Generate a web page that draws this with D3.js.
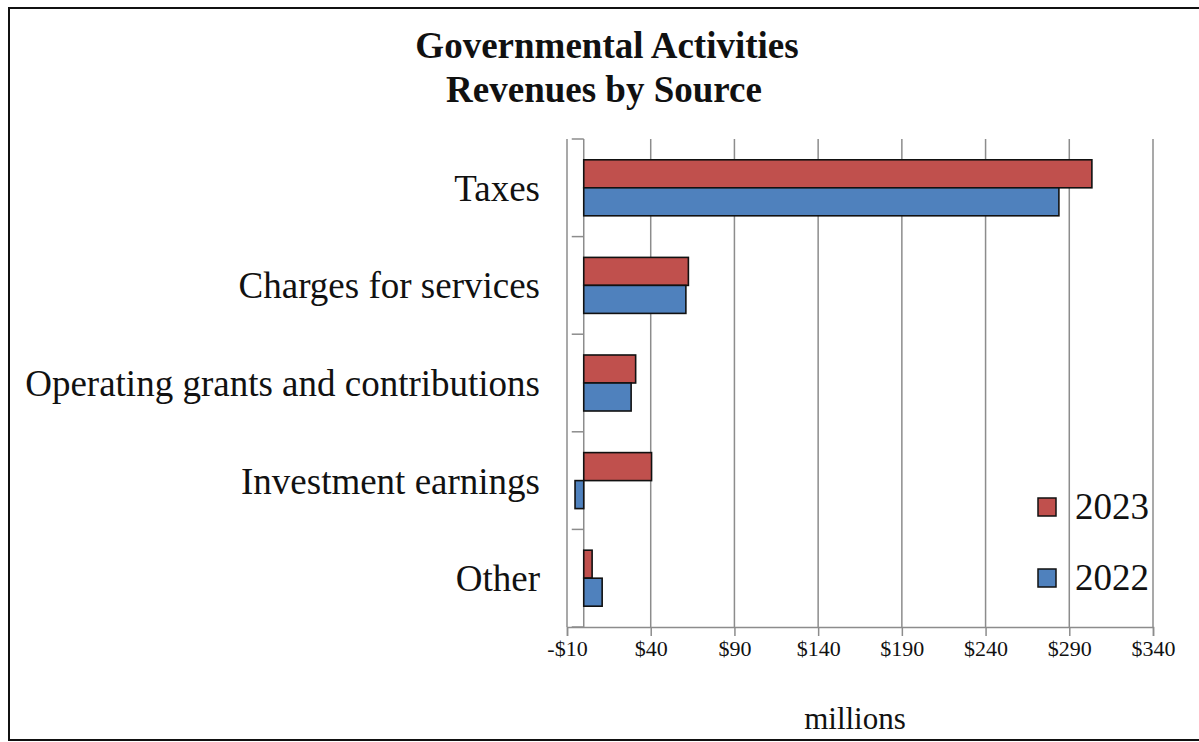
<!DOCTYPE html>
<html><head><meta charset="utf-8">
<script src="https://cdn.jsdelivr.net/npm/d3@7"></script>
<style>body{margin:0;background:#fff}svg{display:block}text{font-family:"Liberation Serif","Times New Roman",serif}</style>
</head><body>
<svg id="c" width="1199" height="742"></svg>
<script>
const categories = ["Taxes","Charges for services","Operating grants and contributions","Investment earnings","Other"];
const series = ["2023","2022"];
const values2023 = [303.5, 62.5, 31, 40.5, 5];
const values2022 = [283.8, 61, 28.3, -5.2, 11];
const tickValues = [-10,40,90,140,190,240,290,340];
const colors = ["#C0504D","#4F81BD"];

const svg = d3.select("#c");
svg.append("rect").attr("x",9).attr("y",8).attr("width",1200).attr("height",732)
  .attr("fill","none").attr("stroke","#111").attr("stroke-width",2);

const x = d3.scaleLinear().domain([-10,340]).range([567,1153]);
const y = d3.scaleBand().domain(categories).range([139,627]).padding(0);
const barH = 28;

// gridlines
svg.append("g").selectAll("line").data(tickValues).join("line")
  .attr("x1",d=>x(d)).attr("x2",d=>x(d)).attr("y1",139).attr("y2",627)
  .attr("stroke","#8c8c8c").attr("stroke-width",1.5);

// bottom axis
const xAxis = d3.axisBottom(x).tickValues(tickValues).tickSize(9).tickPadding(4)
  .tickFormat(d=> d<0 ? "-$"+Math.abs(d) : "$"+d);
const gx = svg.append("g").attr("transform","translate(0,627)").call(xAxis);
gx.select(".domain").attr("stroke","#8c8c8c").attr("stroke-width",1.5);
gx.selectAll(".tick line").attr("stroke","#8c8c8c").attr("stroke-width",1.5);
gx.selectAll("text").attr("font-size",22).attr("fill","#111").attr("font-family","Liberation Serif");

// category axis at zero
const yTicks = [139].concat(categories.map(c=>y(c)+y.bandwidth()));
svg.append("line").attr("x1",x(0)).attr("x2",x(0)).attr("y1",139).attr("y2",627)
  .attr("stroke","#8c8c8c").attr("stroke-width",1.5);
svg.append("g").selectAll("line").data(yTicks).join("line")
  .attr("x1",x(0)-12).attr("x2",x(0)).attr("y1",d=>d).attr("y2",d=>d)
  .attr("stroke","#8c8c8c").attr("stroke-width",1.5);

// category labels
svg.append("g").selectAll("text").data(categories).join("text")
  .attr("x",540).attr("y",c=>y(c)+y.bandwidth()/2 + 13)
  .attr("text-anchor","end").attr("font-size",37).attr("fill","#111").text(c=>c);

// bars
const allVals = [values2023, values2022];
allVals.forEach((vals,si)=>{
  svg.append("g").selectAll("rect").data(categories).join("rect")
    .attr("x",(c,i)=>x(Math.min(0,vals[i])))
    .attr("width",(c,i)=>Math.abs(x(vals[i])-x(0)))
    .attr("y",c=>y(c)+y.bandwidth()/2 - barH + si*barH)
    .attr("height",barH)
    .attr("fill",colors[si]).attr("stroke","#111").attr("stroke-width",1.6);
});

// title
svg.append("text").attr("x",607).attr("y",58).attr("text-anchor","middle")
  .attr("font-size",37).attr("font-weight","bold").attr("fill","#111").text("Governmental Activities");
svg.append("text").attr("x",604).attr("y",102).attr("text-anchor","middle")
  .attr("font-size",37).attr("font-weight","bold").attr("fill","#111").text("Revenues by Source");

// axis title
svg.append("text").attr("x",855).attr("y",729).attr("text-anchor","middle")
  .attr("font-size",31).attr("fill","#111").text("millions");

// legend
series.forEach((s,i)=>{
  const ly = 507 + i*71;
  svg.append("rect").attr("x",1038).attr("y",ly-9).attr("width",18).attr("height",18)
    .attr("fill",colors[i]).attr("stroke","#111").attr("stroke-width",1.5);
  svg.append("text").attr("x",1075).attr("y",ly+12)
    .attr("font-size",37).attr("fill","#111").text(s);
});
</script>
</body></html>
